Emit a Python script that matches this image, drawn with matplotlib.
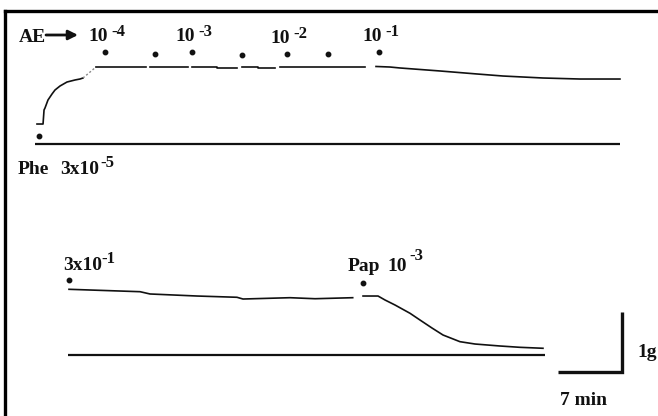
import matplotlib
matplotlib.use("Agg")
import matplotlib.pyplot as plt

plt.rcParams['font.family'] = ['Liberation Serif', 'DejaVu Serif']
plt.rcParams['font.weight'] = 'bold'

# ---- recording scale (paper speed / gain) ----
PX_PER_MIN = 64 / 7.0      # chart paper speed
PX_PER_G = 60.0            # pen gain
SCALE_MIN = 7              # time calibration bar
SCALE_G = 1                # tension calibration bar

# ---- trace 1: phenylephrine 3x10^-5 contraction, then cumulative AE ----
phe_t = [0, 0.66, 0.77, 0.875, 1.20, 1.64, 1.97, 2.52, 3.28, 4.16, 4.70, 5.03]
phe_g = [0.333, 0.333, 0.567, 0.60, 0.733, 0.833, 0.90, 0.967, 1.033, 1.067, 1.083, 1.10]
faint_t = [5.03, 6.45]
faint_g = [1.10, 1.283]
ae_segments_t = [
    [6.45, 11.92],
    [12.36, 16.52],
    [16.95, 19.69, 19.69, 21.87],
    [22.42, 24.17, 24.17, 26.03],
    [26.58, 35.87],
    [37.08, 38.61, 39.70, 41.89, 44.08, 48.12, 50.97, 55.34, 59.39, 63.76],
]
ae_segments_g = [
    [1.283, 1.283],
    [1.283, 1.283],
    [1.283, 1.283, 1.267, 1.267],
    [1.283, 1.283, 1.267, 1.267],
    [1.283, 1.283],
    [1.292, 1.283, 1.267, 1.242, 1.217, 1.167, 1.133, 1.10, 1.083, 1.083],
]
ae_dose_t = [7.44, 12.91, 16.95, 22.42, 27.34, 31.83, 37.41]
ae_dose_g = [1.533, 1.50, 1.533, 1.483, 1.50, 1.50, 1.533]
ae_dose_exp = ['-4', '', '-3', '', '-2', '', '-1']
phe_dose_t = [0.22]
phe_dose_g = [0.133]
top_zero_t = [-0.22, 63.76]

# ---- trace 2: AE 3x10^-1 alone, then papaverine 10^-3 ----
ae2_t = [0, 7.77, 8.86, 14.00, 18.37, 19.03, 24.17, 26.91, 31.03]
ae2_g = [1.095, 1.055, 1.017, 0.983, 0.962, 0.933, 0.955, 0.938, 0.955]
pap_t = [32.16, 33.80, 34.56, 35.66, 37.30, 38.39, 39.70, 40.91, 42.76, 44.41, 47.14, 49.33, 51.84]
pap_g = [0.983, 0.983, 0.917, 0.833, 0.695, 0.583, 0.45, 0.333, 0.222, 0.183, 0.15, 0.128, 0.112]
bot_dose_t = [0, 32.16]
bot_dose_g = [1.25, 1.20]
bot_zero_t = [-0.11, 52.06]

W, H = 658, 416
fig = plt.figure(figsize=(W / 100, H / 100), dpi=100)
ax = fig.add_axes([0, 0, 1, 1])
ax.set_xlim(0, W / PX_PER_MIN)
ax.set_ylim(0, H / PX_PER_G)
ax.axis('off')

# panel origins (min, g)
top_x0, top_base = 37 / PX_PER_MIN, (H - 144) / PX_PER_G
bot_x0, bot_base = 69 / PX_PER_MIN, (H - 355) / PX_PER_G

ink = '#111111'
tw = 1.2
FS, FS_EXP = 14, 12


def tr(ts, x0):
    return [x0 + t for t in ts]


def gy(gs, base):
    return [base + g for g in gs]


def pt(x, y):
    return (x / W, 1 - y / H)


# top trace
ax.plot(tr(top_zero_t, top_x0), [top_base] * 2, color=ink, lw=1.6, solid_capstyle='butt')
ax.plot(tr(phe_t, top_x0), gy(phe_g, top_base), color=ink, lw=tw)
ax.plot(tr(faint_t, top_x0), gy(faint_g, top_base), color='#888888', lw=1.0, ls=(0, (1.5, 1.5)))
for st, sg in zip(ae_segments_t, ae_segments_g):
    ax.plot(tr(st, top_x0), gy(sg, top_base), color=ink, lw=tw)
ax.plot(tr(ae_dose_t, top_x0), gy(ae_dose_g, top_base), 'o', color=ink, ms=3.2, ls='none')
ax.plot(tr(phe_dose_t, top_x0), gy(phe_dose_g, top_base), 'o', color=ink, ms=3.2, ls='none')

# concentration labels above the dose marks (offsets in points)
for t, g, ex in zip(ae_dose_t, ae_dose_g, ae_dose_exp):
    if not ex:
        continue
    xy = (top_x0 + t, top_base + g)
    ax.annotate('10', xy=xy, xytext=(1.8, 7.8), textcoords='offset points',
                ha='right', va='baseline', fontsize=FS, fontweight='bold', color=ink)
    ax.annotate(ex, xy=xy, xytext=(4.3, 11.5), textcoords='offset points',
                ha='left', va='baseline', fontsize=FS_EXP, fontweight='bold', color=ink)

# bottom trace
ax.plot(tr(bot_zero_t, bot_x0), [bot_base] * 2, color=ink, lw=1.6, solid_capstyle='butt')
ax.plot(tr(ae2_t, bot_x0), gy(ae2_g, bot_base), color=ink, lw=tw)
ax.plot(tr(pap_t, bot_x0), gy(pap_g, bot_base), color=ink, lw=tw)
ax.plot(tr(bot_dose_t, bot_x0), gy(bot_dose_g, bot_base), 'o', color=ink, ms=3.2, ls='none')

# calibration bars
cx, cy = 622 / PX_PER_MIN, (H - 371.7) / PX_PER_G
ax.plot([cx - SCALE_MIN, cx, cx], [cy, cy, cy + SCALE_G], color=ink, lw=2.4,
        solid_joinstyle='miter', solid_capstyle='butt')

kw = dict(transform=ax.transAxes, fontsize=FS, fontweight='bold', color=ink, va='baseline')
kx = dict(transform=ax.transAxes, fontsize=FS_EXP, fontweight='bold', color=ink, va='baseline')

ax.text(*pt(19, 42), 'AE', ha='left', **kw)
ax.annotate('', xy=pt(78, 35), xytext=pt(46, 35), xycoords='axes fraction',
            arrowprops=dict(arrowstyle='-|>', lw=2.0, color=ink, mutation_scale=14,
                            shrinkA=0, shrinkB=0))

ax.text(*pt(18, 174), 'Phe', ha='left', **kw)
ax.text(*pt(99, 174), '3x10', ha='right', **kw)
ax.text(*pt(100, 167), '-5', ha='left', **kx)

ax.text(*pt(63, 270), '3x10', ha='left', **kw)
ax.text(*pt(101, 263), '-1', ha='left', **kx)

ax.text(*pt(348, 271), 'Pap', ha='left', **kw)
ax.text(*pt(407, 271), '10', ha='right', **kw)
ax.text(*pt(409, 260), '-3', ha='left', **kx)

ax.text(*pt(637, 357), '1g', ha='left', **kw)
ax.text(*pt(560, 405), '7 min', ha='left', **kw)

# frame
ax.plot([5 / W, 5 / W], [0, 1 - 11 / H], color='black', lw=2.4, transform=ax.transAxes,
        solid_capstyle='projecting')
ax.plot([5 / W, 1], [1 - 11 / H, 1 - 11 / H], color='black', lw=2.4, transform=ax.transAxes,
        solid_capstyle='projecting')

fig.savefig('out.png', dpi=100, facecolor='white')
